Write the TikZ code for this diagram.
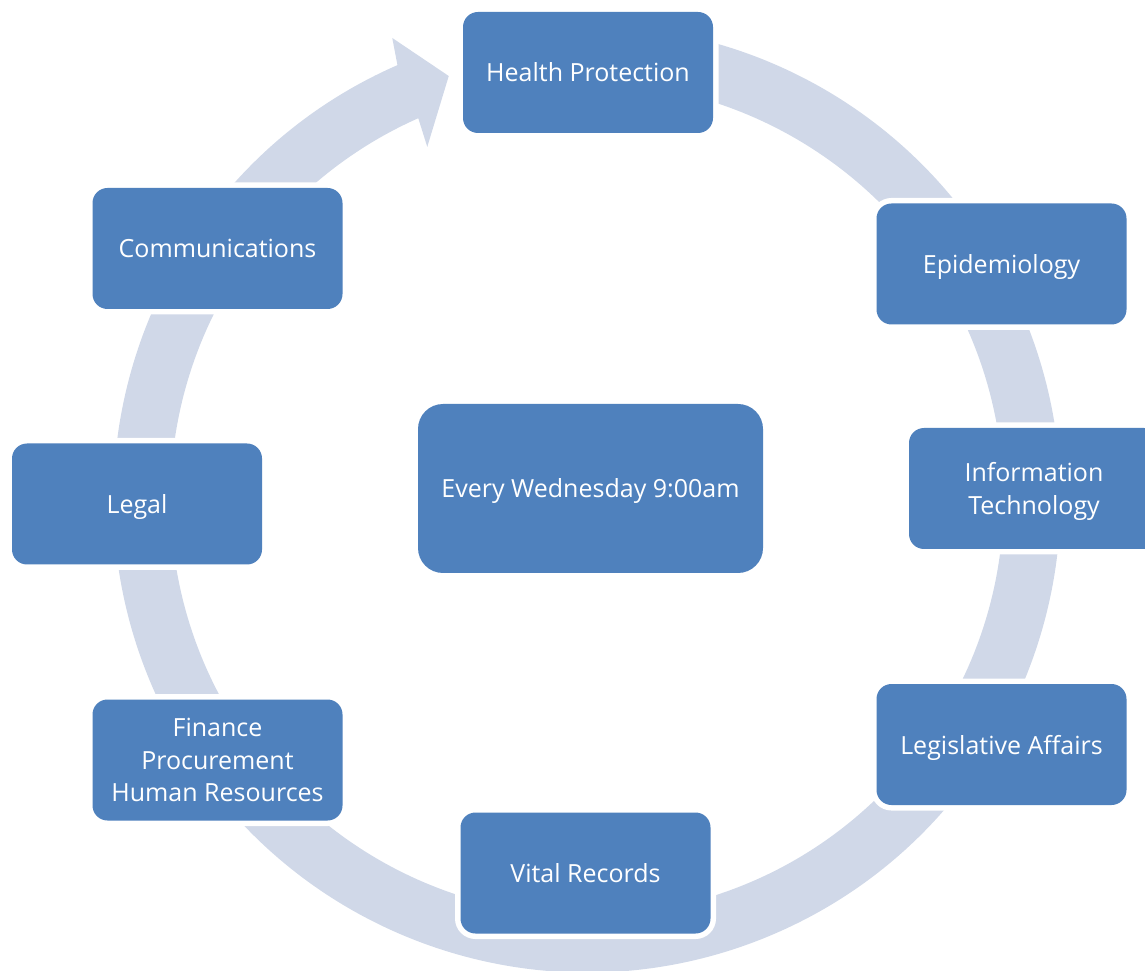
\documentclass[tikz,border=0pt]{standalone}
\usepackage{fontspec}
\setmainfont{Open Sans}
\definecolor{unitblue}{HTML}{4F81BD}
\definecolor{cyclegray}{HTML}{D0D8E8}
\begin{document}
\begin{tikzpicture}[
                    x=1pt, y=1pt,
                    unit/.style={rectangle, rounded corners=15pt, fill=unitblue,
                        minimum width=250pt, minimum height=121pt, inner sep=0pt,
                        text=white, align=center, text depth=0pt,
                        font=\fontsize{25}{32.5}\selectfont,
                        preaction={draw=white, line width=11pt}},
                    meeting/.style={unit, rounded corners=25pt,
                        minimum width=345pt, minimum height=169pt}
                ]
                \useasboundingbox (0,0) rectangle (1145,970);
                \coordinate (ctr) at (587,471);

                % Cycle band
                \fill [cyclegray, shift={(ctr)}]
                    (113.9:416.5) -- (114.4:386.7) -- (108.1:445) -- (112.9:500.5)
                    -- (113.6:473.5) arc [start angle=113.6, end angle=460, radius=473.5]
                    -- (460:416.5) arc [start angle=460, end angle=113.9, radius=416.5]
                    -- cycle;

                % Blocks
                \node [unit] (HP) at (588,897.5) {Health Protection};
                \node [unit] (Epi) at (1001.5,706) {Epidemiology};
                \node [unit] (IT) at (1034,481.5) {Information\\Technology};
                \node [unit] (LA) at (1001.5,225.5) {Legislative Affairs};
                \node [unit] (VR) at (585.5,97) {Vital Records};
                \node [unit] (Fin) at (217.5,210) {Finance\\Procurement\\Human Resources};
                \node [unit] (Legal) at (137,466) {Legal};
                \node [unit] (Comm) at (217.5,721.5) {Communications};
                \node [meeting] (Meet) at (590.5,481.5) {Every Wednesday 9:00am};
            \end{tikzpicture}
\end{document}
